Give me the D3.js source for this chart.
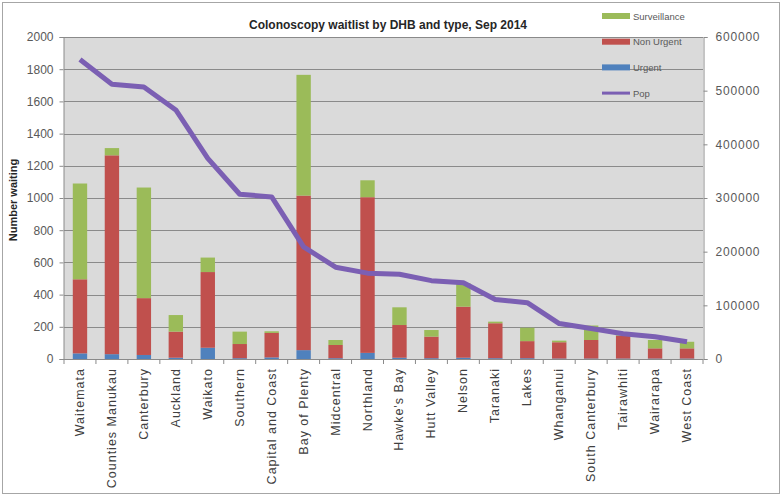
<!DOCTYPE html>
<html>
<head>
    <meta charset="utf-8">
    <title>Colonoscopy waitlist</title>
    <script src="https://cdn.jsdelivr.net/npm/d3@7"></script>
    <style>
        body { margin: 0; background: #fff; }
        text { font-family: "Liberation Sans", Arial, sans-serif; }
    </style>
</head>
<body>
    <svg width="782" height="497"></svg>
    <script>
        const categories = ['Waitemata', 'Counties Manukau', 'Canterbury', 'Auckland', 'Waikato', 'Southern',
            'Capital and Coast', 'Bay of Plenty', 'Midcentral', 'Northland', "Hawke's Bay", 'Hutt Valley',
            'Nelson', 'Taranaki', 'Lakes', 'Whanganui', 'South Canterbury', 'Tairawhiti', 'Wairarapa', 'West Coast']
        const urgent = [35, 30, 25, 8, 70, 5, 10, 55, 5, 38, 8, 5, 8, 5, 5, 3, 3, 3, 3, 3]
        const nonUrgent = [460, 1235, 353, 162, 470, 88, 152, 960, 82, 967, 203, 134, 317, 217, 106, 101, 115, 142, 63, 63]
        const surveillance = [595, 45, 687, 103, 90, 77, 10, 750, 31, 105, 110, 41, 145, 10, 83, 10, 90, 5, 52, 41]
        const pop = [558000, 512000, 507000, 464000, 374000, 307000, 302000, 209000, 171000, 160000,
            158000, 146000, 142000, 111000, 105000, 66000, 57000, 47000, 41500, 32000]
        const leftTicks = [0, 200, 400, 600, 800, 1000, 1200, 1400, 1600, 1800, 2000]
        const rightTicks = [0, 100000, 200000, 300000, 400000, 500000, 600000]
        const seriesNames = ['Urgent', 'Non Urgent', 'Surveillance']
        const COLORS = { 'Surveillance': '#9bbb59', 'Non Urgent': '#c0504d', 'Urgent': '#4f81bd', 'Pop': '#7b5fb3' }

        const svg = d3.select('svg')
        const L = 64, R = 703, T = 37, B = 359

        // outer frame
        svg.append('rect').attr('x', 2.5).attr('y', 2.5).attr('width', 777).attr('height', 491)
            .attr('fill', '#fff').attr('stroke', '#a6a6a6')

        const x = d3.scaleBand().domain(categories).range([L, R]).paddingInner(0.55).paddingOuter(0.275)
        const y = d3.scaleLinear().domain([0, 2000]).range([B, T])
        const y2 = d3.scaleLinear().domain([0, 600000]).range([B, T])

        svg.append('rect').attr('x', L).attr('y', T).attr('width', R - L).attr('height', B - T).attr('fill', '#dadada')

        // grid
        svg.append('g').selectAll('line').data(leftTicks.filter(d => d > 0)).join('line')
            .attr('x1', L).attr('x2', R)
            .attr('y1', d => Math.round(y(d)) + 0.5).attr('y2', d => Math.round(y(d)) + 0.5)
            .attr('stroke', '#8a8a8a').attr('stroke-width', 1)

        const rows = categories.map((c, i) => ({ cat: c, 'Urgent': urgent[i], 'Non Urgent': nonUrgent[i], 'Surveillance': surveillance[i] }))
        const stacked = d3.stack().keys(seriesNames)(rows)

        svg.append('g').selectAll('g').data(stacked).join('g')
            .attr('fill', d => COLORS[d.key])
            .selectAll('rect').data(d => d).join('rect')
            .attr('x', d => x(d.data.cat))
            .attr('width', x.bandwidth())
            .attr('y', d => y(d[1]))
            .attr('height', d => y(d[0]) - y(d[1]))

        // left axis
        const gl = svg.append('g').attr('transform', `translate(${L - 0.5},0)`)
            .call(d3.axisLeft(y).tickValues(leftTicks).tickSize(4).tickPadding(6).tickFormat(d3.format('d')))
        gl.select('.domain').attr('stroke', '#8a8a8a')
        gl.selectAll('.tick line').attr('stroke', '#8a8a8a')
        gl.selectAll('text').attr('fill', '#595959').style('font-size', '12px')

        // right axis
        const gr = svg.append('g').attr('transform', `translate(${R + 0.5},0)`)
            .call(d3.axisRight(y2).tickValues(rightTicks).tickSize(4).tickPadding(8).tickFormat(d3.format('d')))
        gr.select('.domain').attr('stroke', '#8a8a8a')
        gr.selectAll('.tick line').attr('stroke', '#8a8a8a')
        gr.selectAll('text').attr('fill', '#595959').style('font-size', '12px').attr('letter-spacing', '0.8px')

        // bottom axis
        const step = x.step()
        svg.append('line').attr('x1', L).attr('x2', R).attr('y1', B + 0.5).attr('y2', B + 0.5).attr('stroke', '#8a8a8a')
        svg.append('g').selectAll('line').data(d3.range(categories.length + 1)).join('line')
            .attr('x1', i => L + i * step).attr('x2', i => L + i * step)
            .attr('y1', B).attr('y2', B + 5).attr('stroke', '#8a8a8a')
        svg.append('g').selectAll('text').data(categories).join('text')
            .attr('transform', d => `translate(${x(d) + x.bandwidth() / 2 + 4},${B + 9}) rotate(-90)`)
            .attr('text-anchor', 'end')
            .attr('fill', '#404040')
            .style('font-size', '12.5px')
            .attr('letter-spacing', '1px')
            .text(d => d)

        // pop line
        svg.append('path').datum(pop)
            .attr('d', d3.line().x((d, i) => x(categories[i]) + x.bandwidth() / 2).y(d => y2(d)))
            .attr('fill', 'none').attr('stroke', COLORS['Pop']).attr('stroke-width', 5)
            .attr('stroke-linejoin', 'round')

        // title
        svg.append('text').attr('x', 388).attr('y', 29).attr('text-anchor', 'middle')
            .attr('fill', '#262626').style('font-size', '12px').style('font-weight', 'bold')
            .text('Colonoscopy waitlist by DHB and type, Sep 2014')

        // y axis title
        svg.append('text').attr('transform', 'translate(17,200) rotate(-90)')
            .attr('text-anchor', 'middle').attr('fill', '#262626')
            .style('font-size', '11px').style('font-weight', 'bold')
            .text('Number waiting')

        // legend
        const legendItems = ['Surveillance', 'Non Urgent', 'Urgent', 'Pop']
        const lg = svg.append('g').selectAll('g').data(legendItems).join('g')
            .attr('transform', (d, i) => `translate(602,${16 + i * 25.7})`)
        lg.append('rect')
            .attr('x', 0).attr('width', 28)
            .attr('y', d => d === 'Pop' ? -1.5 : -3).attr('height', d => d === 'Pop' ? 3 : 6)
            .attr('fill', d => COLORS[d])
        lg.append('text').attr('x', 31).attr('y', 3.5)
            .attr('fill', '#595959').style('font-size', '9.5px')
            .text(d => d)
    </script>
</body>
</html>
